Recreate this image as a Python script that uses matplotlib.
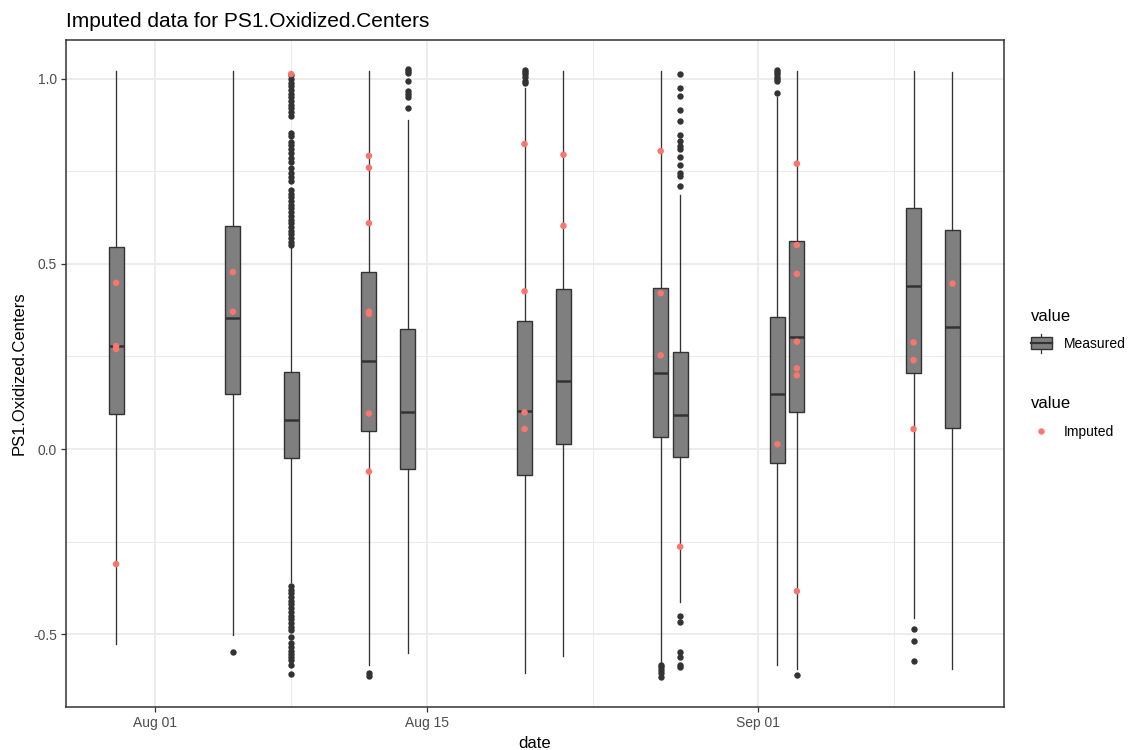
import datetime as dt

import matplotlib
matplotlib.use("Agg")
import matplotlib.pyplot as plt
import matplotlib.dates as mdates
from matplotlib.legend_handler import HandlerBase
from matplotlib.lines import Line2D
from matplotlib.patches import Patch, Rectangle

box_dates = ["2021-07-30", "2021-08-05", "2021-08-08", "2021-08-12", "2021-08-14",
             "2021-08-20", "2021-08-22", "2021-08-27", "2021-08-28", "2021-09-02",
             "2021-09-03", "2021-09-09", "2021-09-11"]
whis_hi = [1.022, 1.022, 0.545, 1.022, 0.889, 0.975, 1.020, 1.020, 0.686, 0.952, 1.022, 1.022, 1.019]
q3 = [0.545, 0.603, 0.207, 0.478, 0.323, 0.346, 0.433, 0.436, 0.262, 0.357, 0.563, 0.652, 0.592]
med = [0.278, 0.355, 0.078, 0.239, 0.101, 0.104, 0.184, 0.206, 0.091, 0.148, 0.302, 0.441, 0.329]
q1 = [0.094, 0.148, -0.023, 0.048, -0.055, -0.071, 0.013, 0.032, -0.021, -0.039, 0.100, 0.205, 0.058]
whis_lo = [-0.527, -0.502, -0.360, -0.584, -0.552, -0.606, -0.559, -0.579, -0.413, -0.583, -0.593, -0.457, -0.595]

outliers = [
    [],
    [-0.548],
    [1.011, 1.00, 0.99, 0.98, 0.97, 0.96, 0.95, 0.94, 0.93, 0.92, 0.91, 0.90,
     0.855, 0.845, 0.83, 0.82, 0.81, 0.80, 0.785, 0.775, 0.76, 0.745, 0.735, 0.725,
     0.70, 0.69, 0.68, 0.67, 0.66, 0.65, 0.64, 0.63, 0.62, 0.61, 0.60, 0.59, 0.58,
     0.57, 0.56, 0.55,
     -0.37, -0.38, -0.39, -0.40, -0.41, -0.42, -0.43, -0.44, -0.45, -0.46, -0.47,
     -0.48, -0.489, -0.507, -0.525, -0.535, -0.545, -0.555, -0.563, -0.570,
     -0.584, -0.609],
    [-0.606, -0.614],
    [1.026, 1.020, 1.015, 0.993, 0.966, 0.958, 0.950, 0.922],
    [1.024, 1.018, 1.012, 1.005, 0.995, 0.988],
    [],
    [-0.584, -0.589, -0.597, -0.605, -0.617],
    [1.013, 0.975, 0.955, 0.916, 0.886, 0.849, 0.831, 0.819, 0.810, 0.788, 0.766,
     0.745, 0.738, 0.711, -0.450, -0.468, -0.548, -0.561, -0.584, -0.590],
    [1.024, 1.019, 1.013, 1.006, 0.999, 0.993, 0.961],
    [-0.611],
    [-0.487, -0.519, -0.573],
    [],
]

# --- imputed values ---
imp_dates = ["2021-07-30", "2021-07-30", "2021-07-30", "2021-07-30",
             "2021-08-05", "2021-08-05",
             "2021-08-08",
             "2021-08-12", "2021-08-12", "2021-08-12", "2021-08-12", "2021-08-12",
             "2021-08-12", "2021-08-12",
             "2021-08-20", "2021-08-20", "2021-08-20", "2021-08-20",
             "2021-08-22", "2021-08-22",
             "2021-08-27", "2021-08-27", "2021-08-27",
             "2021-08-28",
             "2021-09-02",
             "2021-09-03", "2021-09-03", "2021-09-03", "2021-09-03", "2021-09-03",
             "2021-09-03", "2021-09-03",
             "2021-09-09", "2021-09-09", "2021-09-09",
             "2021-09-11"]
imp_values = [0.449, 0.278, 0.270, -0.311,
              0.478, 0.371,
              1.013,
              0.792, 0.760, 0.610, 0.371, 0.365, 0.096, -0.061,
              0.824, 0.426, 0.099, 0.054,
              0.795, 0.603,
              0.805, 0.421, 0.253,
              -0.264,
              0.013,
              0.771, 0.551, 0.473, 0.290, 0.218, 0.199, -0.384,
              0.288, 0.240, 0.054,
              0.447]

x_major = ["2021-08-01", "2021-08-15", "2021-09-01"]
x_minor = ["2021-08-08", "2021-08-23 12:00", "2021-09-08"]


def to_num(s):
    fmt = "%Y-%m-%d %H:%M" if " " in s else "%Y-%m-%d"
    return mdates.date2num(dt.datetime.strptime(s, fmt))


BOX_FILL = "#7F7F7F"
LINE_COL = "#333333"
IMP_COL = "#F8766D"
GRID_COL = "#EBEBEB"


class BoxKeyHandler(HandlerBase):
    # draws the little boxplot glyph used as legend key
    def create_artists(self, legend, orig_handle, xdescent, ydescent,
                       width, height, fontsize, trans):
        h = height * 0.95
        y0 = -ydescent + (height - h) / 2
        cx = -xdescent + width / 2
        whisk = Line2D([cx, cx], [y0 - h * 0.3, y0 + h * 1.3], color=LINE_COL, lw=0.9)
        rect = Rectangle((-xdescent, y0), width, h, facecolor=BOX_FILL,
                         edgecolor=LINE_COL, lw=1.0)
        mid = Line2D([-xdescent, -xdescent + width], [y0 + h / 2] * 2, color=LINE_COL, lw=1.6)
        for a in (whisk, rect, mid):
            a.set_transform(trans)
        return [whisk, rect, mid]


plt.rcParams["font.family"] = ["Liberation Sans", "DejaVu Sans"]
plt.rcParams["axes.unicode_minus"] = False

fig = plt.figure(figsize=(11.32, 7.5), dpi=100)
ax = fig.add_axes([66 / 1132, 1 - 707 / 750, (1004 - 66) / 1132, (707 - 40) / 750])

stats = []
for i in range(len(box_dates)):
    stats.append(dict(med=med[i], q1=q1[i], q3=q3[i], whislo=whis_lo[i],
                      whishi=whis_hi[i], fliers=outliers[i]))

ax.bxp(stats, positions=[to_num(d) for d in box_dates], widths=0.77,
       patch_artist=True, showcaps=False, manage_ticks=False,
       boxprops=dict(facecolor=BOX_FILL, edgecolor=LINE_COL, linewidth=1.0),
       medianprops=dict(color=LINE_COL, linewidth=1.8),
       whiskerprops=dict(color=LINE_COL, linewidth=0.95),
       flierprops=dict(marker="o", markerfacecolor=LINE_COL, markeredgecolor="none",
                       markersize=4.6),
       zorder=2)

ax.scatter([to_num(d) for d in imp_dates], imp_values, s=22, color=IMP_COL,
           edgecolors="none", zorder=4)

# axes scales
x0 = to_num("2021-08-01")
ax.set_xlim(x0 - 4.576, x0 + 43.65)
ax.set_ylim(-0.697, 1.105)
ax.set_xticks([to_num(d) for d in x_major])
ax.set_xticks([to_num(d) for d in x_minor], minor=True)
ax.xaxis.set_major_formatter(mdates.DateFormatter("%b %d"))
ax.set_yticks([-0.5, 0.0, 0.5, 1.0])
ax.set_yticks([-0.25, 0.25, 0.75], minor=True)
ax.set_yticklabels(["-0.5", "0.0", "0.5", "1.0"])

ax.grid(True, which="major", color=GRID_COL, linewidth=1.3, zorder=0)
ax.grid(True, which="minor", color=GRID_COL, linewidth=0.7, zorder=0)
ax.set_axisbelow(True)

ax.tick_params(axis="both", which="major", length=3.5, width=0.9, color=LINE_COL,
               labelsize=10, labelcolor="#4D4D4D", pad=3)
ax.tick_params(axis="both", which="minor", length=0)
for sp in ax.spines.values():
    sp.set_color(LINE_COL)
    sp.set_linewidth(1.1)

ax.set_xlabel("date", fontsize=12, labelpad=4)
ax.set_ylabel("PS1.Oxidized.Centers", fontsize=12, labelpad=5)
ax.set_title("Imputed data for PS1.Oxidized.Centers", fontsize=15, loc="left", pad=9.5)

# two legends, both titled "value"
leg1 = ax.legend([Patch()], ["Measured"], handler_map={Patch: BoxKeyHandler()},
                 title="value", loc="upper left", bbox_to_anchor=(1021 / 1132, 1 - 299 / 750),
                 bbox_transform=fig.transFigure, frameon=False, fontsize=10,
                 title_fontsize=12, handlelength=1.55, handleheight=1.05,
                 handletextpad=0.85, borderpad=0.2, labelspacing=0.95, alignment="left")
ax.add_artist(leg1)
ax.legend([Line2D([], [], ls="none", marker="o", markersize=4.6, color=IMP_COL,
                  markeredgecolor="none")], ["Imputed"],
          title="value", loc="upper left", bbox_to_anchor=(1021 / 1132, 1 - 386 / 750),
          bbox_transform=fig.transFigure, frameon=False, fontsize=10,
          title_fontsize=12, handlelength=1.55, handletextpad=0.85, borderpad=0.2,
          labelspacing=1.05, alignment="left")

fig.savefig("out.png", dpi=100)
